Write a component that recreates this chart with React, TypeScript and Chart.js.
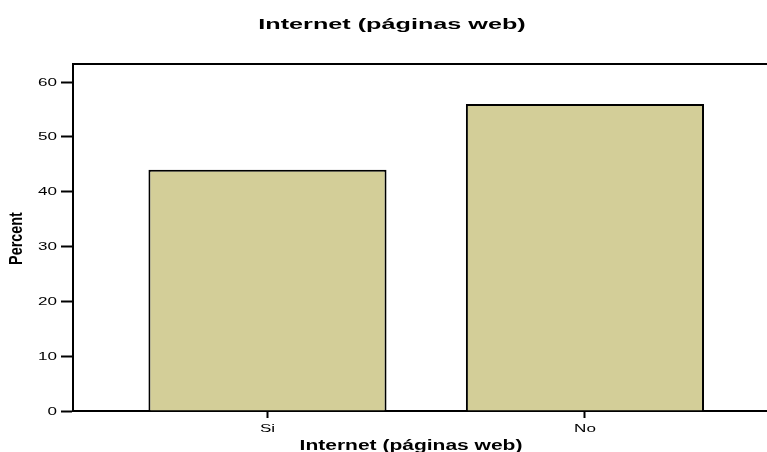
import React, { useEffect, useRef } from "react";
import { Chart, registerables } from "chart.js";

Chart.register(...registerables);

const categories: string[] = ["Si", "No"];
const percents: number[] = [44.0, 56.0];
const yTicks: number[] = [0, 10, 20, 30, 40, 50, 60];
const chartTitle = "Internet (páginas web)";
const xTitle = "Internet (páginas web)";
const yTitle = "Percent";

const BAR_COLOR = "#d3ce98";
const SANS = "'Liberation Sans', Arial, sans-serif";

function wideText(
  ctx: CanvasRenderingContext2D,
  text: string,
  x: number,
  y: number,
  font: string,
  stretch: number,
  align: CanvasTextAlign,
  baseline: CanvasTextBaseline,
  rotate = 0
) {
  ctx.save();
  ctx.font = font;
  ctx.fillStyle = "#000";
  ctx.textAlign = align;
  ctx.textBaseline = baseline;
  ctx.translate(x, y);
  if (rotate) ctx.rotate(rotate);
  ctx.scale(stretch, 1);
  ctx.fillText(text, 0, 0);
  ctx.restore();
}

export default function App() {
  const ref = useRef<HTMLCanvasElement | null>(null);

  useEffect(() => {
    if (!ref.current) return;
    const decor = {
      id: "decor",
      afterDraw(chart: any) {
        const { ctx, chartArea } = chart;
        const xs = chart.scales.x;
        const ys = chart.scales.y;
        ctx.save();
        ctx.strokeStyle = "#000";
        ctx.lineWidth = 2;
        ctx.beginPath();
        ctx.moveTo(chartArea.left, chartArea.top);
        ctx.lineTo(chart.width, chartArea.top);
        ctx.stroke();
        ctx.restore();
        wideText(ctx, chartTitle, 392, 29, `bold 15px ${SANS}`, 1.68, "center", "alphabetic");
        wideText(ctx, xTitle, 411, 450, `bold 14px ${SANS}`, 1.5, "center", "alphabetic");
        wideText(
          ctx,
          yTitle,
          17,
          (chartArea.top + chartArea.bottom) / 2 + 1,
          `bold 18px ${SANS}`,
          0.8,
          "center",
          "middle",
          -Math.PI / 2
        );
        yTicks.forEach((v) => {
          wideText(ctx, String(v), chartArea.left - 16, ys.getPixelForValue(v) + 0.5, `11px ${SANS}`, 1.55, "right", "middle");
        });
        categories.forEach((c, i) => {
          wideText(ctx, c, xs.getPixelForValue(i + 1), 432, `11px ${SANS}`, 1.55, "center", "alphabetic");
        });
      },
    };
    const chart = new Chart(ref.current, {
      type: "bar",
      data: {
        datasets: [
          {
            data: percents.map((v, i) => ({ x: i + 1, y: v })),
            backgroundColor: BAR_COLOR,
            borderColor: "#000",
            borderWidth: 2,
            barPercentage: 0.75,
            categoryPercentage: 1,
          } as any,
        ],
      },
      plugins: [decor],
      options: {
        responsive: false,
        animation: false,
        devicePixelRatio: 1,
        layout: { padding: { top: 64, left: 0, right: 0, bottom: 0 } },
        plugins: {
          legend: { display: false },
          tooltip: { enabled: false },
          title: { display: false },
        },
        scales: {
          x: {
            type: "linear",
            offset: false,
            min: 0.3874,
            max: 2.5734,
            afterBuildTicks: (scale: any) => {
              scale.ticks = categories.map((_, i) => ({ value: i + 1 }));
            },
            afterFit: (scale: any) => {
              scale.height = 41;
            },
            ticks: {
              autoSkip: false,
              color: "rgba(0,0,0,0)",
              font: { family: SANS, size: 11 },
              callback: (v: any) => categories[Number(v) - 1] ?? "",
            },
            grid: {
              offset: false,
              drawOnChartArea: false,
              drawTicks: true,
              tickLength: 7,
              tickColor: "#000",
              tickWidth: 2,
            },
            border: { display: true, color: "#000", width: 2 },
            title: { display: false },
          },
          y: {
            min: 0,
            max: 63.3,
            afterBuildTicks: (scale: any) => {
              scale.ticks = yTicks.map((v) => ({ value: v }));
            },
            afterFit: (scale: any) => {
              scale.width = 73;
            },
            ticks: {
              color: "rgba(0,0,0,0)",
              font: { family: SANS, size: 11 },
            },
            grid: {
              drawOnChartArea: false,
              drawTicks: true,
              tickLength: 12,
              tickColor: "#000",
              tickWidth: 2,
            },
            border: { display: true, color: "#000", width: 2 },
            title: { display: false },
          },
        },
      } as any,
    });
    return () => chart.destroy();
  }, []);

  return (
    <div style={{ position: "absolute", left: 0, top: 0, width: 767, height: 452, background: "#fff" }}>
      <canvas ref={ref} width={767} height={452} />
    </div>
  );
}
